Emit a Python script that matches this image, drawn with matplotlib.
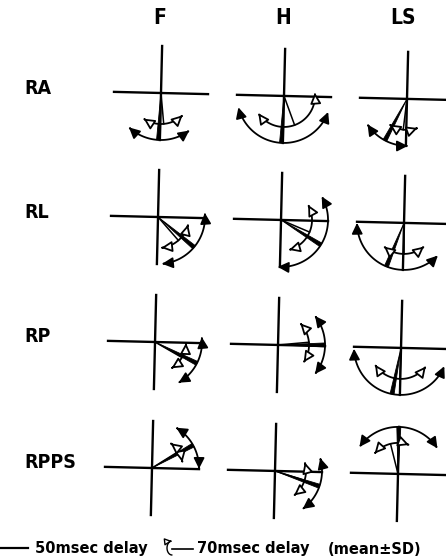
import numpy as np
import matplotlib.pyplot as plt
from matplotlib.patches import FancyArrowPatch, Polygon
from matplotlib.path import Path

rows = ["RA", "RL", "RP", "RPPS"]
cols = ["F", "H", "LS"]

# direction of the mean response (deg, 0 = right, counter-clockwise) and its SD
mean50 = [[-93, -93, -118], [-40, -32, -112], [-27, 0, -101], [29, -19, 89]]
sd50 = [[40, 73, 29], [45, 62, 68], [33, 38, 78], [30, 35, 56]]
mean70 = [[-85, -70, -97], [-49, -23, -90], [-30, 5, -92], [32, -18, 104]]
sd70 = [[39, 76, 27], [35, 52, 40], [28, 39, 55], [21, 34, 35]]

# page layout in pixels
col_x = [161, 284, 407]
row_y = [93, 217, 342, 468]
SKEW = 0.024          # scanned page is slightly rotated
AXIS = 47             # half length of each cross
R50, R70 = 47, 31     # radius of vector tip / SD arc

BOLD = dict(family=["DejaVu Sans Condensed", "DejaVu Sans"], stretch="condensed", weight="bold")
KEY = dict(family="DejaVu Sans", weight="bold")


def polar(cx, cy, r, deg):
    t = np.deg2rad(deg)
    return cx + r * np.cos(t), cy - r * np.sin(t)


def sd_arc(ax, cx, cy, r, mean, sd, fill):
    t = np.linspace(mean - sd, mean + sd, 60)
    x, y = polar(cx, cy, r, t)
    arrow = FancyArrowPatch(path=Path(np.column_stack([x, y])),
                            arrowstyle="<|-|>,head_length=0.8,head_width=0.4",
                            mutation_scale=8, lw=1.3, shrinkA=0, shrinkB=0,
                            fc=fill, ec="black", zorder=4)
    ax.add_patch(arrow)


def draw_cell(ax, cx, cy, m50, s50, m70, s70):
    # cross
    ax.plot([cx - AXIS, cx + AXIS], [cy - AXIS * SKEW, cy + AXIS * SKEW], color="black", lw=1.7)
    ax.plot([cx + AXIS * SKEW, cx - AXIS * SKEW], [cy - AXIS, cy + AXIS], color="black", lw=1.7)

    # 50 msec mean vector as a narrow wedge
    t = np.deg2rad(m50)
    tip = np.array(polar(cx, cy, R50, m50))
    side = np.array([np.sin(t), np.cos(t)]) * 2.0
    ax.add_patch(Polygon([(cx, cy), tip + side, tip - side], closed=True,
                         fc="black", ec="black", lw=0.6, zorder=3))
    sd_arc(ax, cx, cy, R50, m50, s50, "black")

    # 70 msec mean vector
    x70, y70 = polar(cx, cy, R70, m70)
    ax.plot([cx, x70], [cy, y70], color="black", lw=1.1, zorder=3)
    sd_arc(ax, cx, cy, R70, m70, s70, "white")


fig = plt.figure(figsize=(4.46, 5.6), dpi=100)
ax = fig.add_axes([0, 0, 1, 1])
ax.set_xlim(0, 446)
ax.set_ylim(560, 0)
ax.axis("off")

for i, row in enumerate(rows):
    for j, col in enumerate(cols):
        cx = col_x[j] - SKEW * (row_y[i] - row_y[0])
        cy = row_y[i] + SKEW * (col_x[j] - col_x[0])
        draw_cell(ax, cx, cy, mean50[i][j], sd50[i][j], mean70[i][j], sd70[i][j])
    ax.text(24, row_y[i] - 5, row, ha="left", va="center", fontsize=14, **BOLD)

for j, col in enumerate(cols):
    ax.text(col_x[j] - 1 - 3 * (j == 2), 18, col, ha="center", va="center", fontsize=15, **BOLD)

# key
ax.plot([0, 28], [548, 548], color="black", lw=1.6)
ax.text(35, 548, "50msec delay", ha="left", va="center", fontsize=10.5, **KEY)
key_t = np.linspace(-90, 90, 20)
kx, ky = 172 - 5 * np.cos(np.deg2rad(key_t)), 548 - 7 * np.sin(np.deg2rad(key_t))
ax.add_patch(FancyArrowPatch(path=Path(np.column_stack([kx, ky])),
                             arrowstyle="-|>,head_length=0.6,head_width=0.3",
                             mutation_scale=7, lw=1.0, shrinkA=0, shrinkB=0,
                             fc="white", ec="black"))
ax.plot([172, 193], [549, 549], color="black", lw=1.2)
ax.text(197, 548, "70msec delay", ha="left", va="center", fontsize=10.5, **KEY)
ax.text(328, 549, "(mean±SD)", ha="left", va="center", fontsize=10.5, **KEY)

fig.savefig("out.png", dpi=100)
